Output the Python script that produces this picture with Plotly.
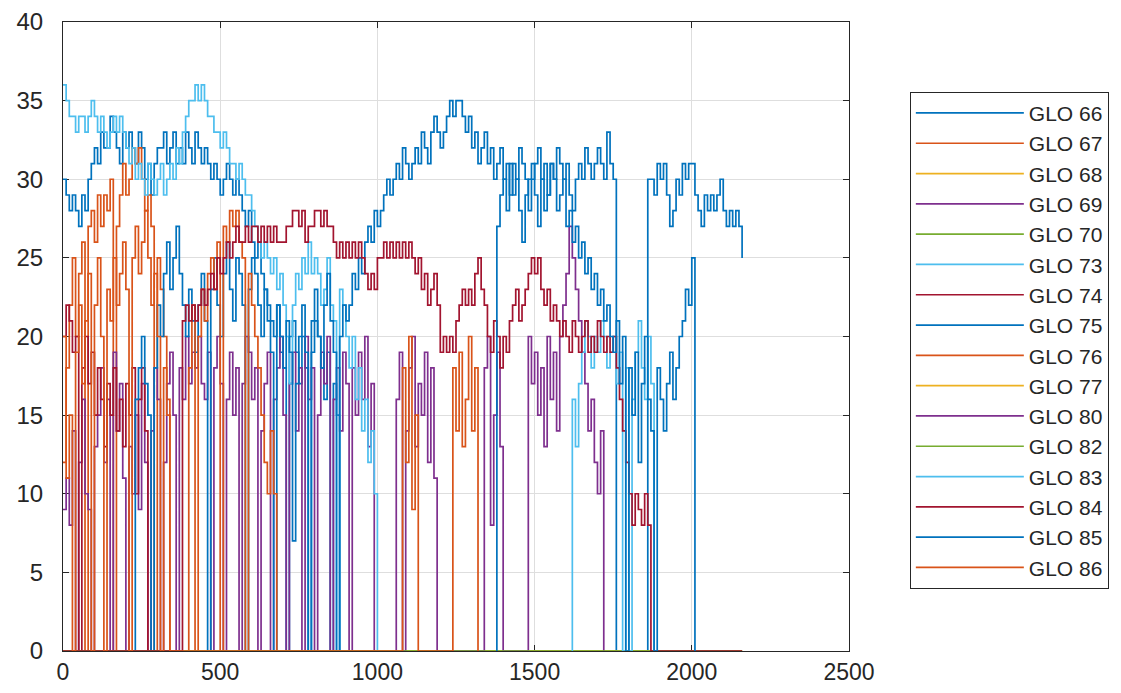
import plotly.graph_objects as go

SAMPLE_STEP = 10
X_END = 2160

NAMES = ["GLO 66", "GLO 67", "GLO 68", "GLO 69", "GLO 70", "GLO 73", "GLO 74", "GLO 75",
         "GLO 76", "GLO 77", "GLO 80", "GLO 82", "GLO 83", "GLO 84", "GLO 85", "GLO 86"]

GLO66_STARTS = [0, 1860]
GLO66_VALUES = [
    [30, 29, 28, 29, 28, 27, 29, 28, 30,
     31, 32, 31, 33, 32, 32, 34, 33, 32, 31, 33, 32,
     33, 32, 31, 33, 32, 30, 31, 29, 31, 32,
     32, 33, 31, 32, 33, 31, 32, 31, 33, 32, 31, 33, 32, 31, 32,
     31, 30, 31, 30, 29, 30, 31, 30, 29, 30, 29,
     28, 27, 28, 26, 25, 26, 24, 23, 22, 21,
     20, 22, 19, 18, 0, 20, 21, 19, 17, 20, 18, 0, 19, 21, 20, 18, 16, 19, 0, 17, 15],
    [30, 30, 29, 31, 30, 31, 29, 27, 28, 30, 29, 31, 30, 31, 31,
     29, 28, 27, 29, 28, 29, 28, 29, 30, 28, 27, 28, 27, 28, 27, 25],
]

GLO67_STARTS = [0]
GLO67_VALUES = [
    [12, 18, 22, 25, 20, 24, 26, 0, 27, 28, 26, 29, 27, 29, 28, 30, 0, 27, 29, 31,
     29, 30, 32, 31, 32, 30, 28, 29, 27, 0, 25, 23, 20, 16],
]

GLO69_STARTS = [0]
GLO69_VALUES = [
    [9, 11, 8, 14, 0, 12, 16, 10, 9, 0, 13,
     15, 18, 12, 16, 0, 19, 14, 17, 11, 0,
     13, 10, 15, 9, 17, 12, 0, 14, 18, 16,
     0, 12, 17, 19, 15, 0, 18, 16, 20, 17,
     19, 18, 20, 17, 16, 19, 0, 18, 20, 17,
     0, 16, 19, 15, 18, 0, 17, 20, 19, 16,
     18, 0, 14, 17, 19, 0, 16, 18, 20, 15,
     0, 17, 19, 14, 18, 0, 20, 16, 18, 0,
     15, 19, 17, 20, 0, 16, 18, 14, 19, 17,
     0, 18, 15, 19, 16, 20, 13, 17, 0, 0],
]

GLO73_STARTS = [0]
GLO73_VALUES = [
    [36, 35, 34, 34, 33, 34, 34, 33, 34, 35, 34,
     33, 34, 33, 32, 33, 34, 33, 34, 33, 32, 31, 32, 30, 31, 30,
     29, 31, 30, 29, 30, 31, 29, 30, 31, 30, 32, 31, 33, 34, 35,
     35, 36, 35, 36, 35, 34, 34, 33, 33, 32,
     33, 32, 31, 31, 30, 31, 30, 29, 29, 28, 27, 26, 25, 26, 25,
     24, 25, 23, 24, 22, 20, 17, 22, 24, 23, 25, 24, 26, 24, 25,
     24, 22, 23, 25, 22, 21, 0, 23, 22, 20, 18, 20, 16, 18, 14, 16, 12, 14, 10],
]

GLO74_STARTS = [0]
GLO74_VALUES = [
    [20, 22, 21, 19, 20, 0, 18, 20, 17, 19, 15, 18, 16, 13, 17, 15, 18, 14, 16, 13,
     17, 15, 18, 10, 16, 18, 14],
]

GLO75_STARTS = [230]
GLO75_VALUES = [
    [16, 18, 20, 17, 15, 0, 18, 22, 20, 24, 26, 23, 25, 27, 24, 22, 20, 23,
     21, 19, 22, 24, 21, 0, 23, 25, 22, 20, 24, 26, 23, 21, 25, 24, 22, 0, 23, 25,
     24, 22, 20, 23, 21, 19, 0, 22, 20, 18, 21, 19, 7, 17, 20, 22, 19, 0, 21, 23,
     20, 18, 22, 24, 21, 19, 0, 20, 22, 21,
     22, 24, 23, 25, 24, 26, 27, 26, 28, 27, 28, 29, 30, 29, 30, 31, 30, 32, 31, 30,
     31, 32, 31, 33, 32, 31, 33, 34, 33, 32, 33, 34, 35, 34, 35,
     35, 34, 33, 34, 32, 33, 31, 32, 33, 31, 32, 30, 31, 32, 30, 31, 29, 31, 30, 32,
     31, 30, 28, 30, 31, 32, 30, 31, 29, 31, 30, 32, 31, 30, 31, 29, 28, 30, 31, 30,
     32, 31, 30, 31, 32, 31, 30, 33, 31, 30],
]

GLO76_STARTS = [400]
GLO76_VALUES = [
    [18, 22, 0, 20, 23, 21, 24, 25, 23, 26, 0, 27, 26, 28, 27, 28, 26, 25, 0, 24,
     22, 20, 18, 15, 12, 10, 14, 10],
]

GLO80_STARTS = [1060, 1340, 1480]
GLO80_VALUES = [
    [16, 19, 0, 14, 18, 20, 13, 17, 15, 19, 12, 18, 11],
    [18, 20, 8, 15, 19, 13],
    [20, 17, 19, 15, 18, 13, 20, 16, 19, 14, 20, 22, 24, 27, 25, 23, 21, 19, 17, 14,
     16, 12, 10, 14],
]

GLO83_STARTS = [1620]
GLO83_VALUES = [
    [16, 13, 17, 19, 21, 20, 18, 20, 19, 21, 20, 18, 19, 20, 17, 19, 0, 18, 0, 16,
     19, 21, 18, 16, 20, 17],
]

GLO84_STARTS = [380]
GLO84_VALUES = [
    [21, 22, 21, 22, 21, 22, 23, 22,
     23, 24, 23, 25, 24, 25, 26, 25, 26, 27, 26,
     26, 27, 26, 27, 27, 26, 27, 26, 27, 26, 27, 26, 26,
     26, 27, 27, 28, 28, 27, 28, 26, 27, 27, 28, 28, 27, 28, 27, 27, 26,
     25, 26, 25, 26, 25, 26, 25, 26, 25, 24, 23, 24, 23, 25,
     25, 26, 25, 26, 25, 26, 25, 26, 25, 26, 25,
     24, 25, 23, 24, 22, 23, 24, 22,
     19, 20, 19, 20, 19, 21, 22, 23, 22, 23,
     22, 24, 25, 23, 22, 20, 19, 21, 20, 18, 20, 19, 21,
     22, 23, 21, 22, 23, 24, 25, 24, 25, 23, 22, 23, 21, 22, 21, 20,
     21, 20, 19, 21, 20, 19, 20, 21, 19, 20, 19, 21, 20, 19, 20, 19, 20, 18,
     16, 14, 12, 10, 8, 10, 9, 8, 10, 8],
]

GLO85_STARTS = [1380]
GLO85_VALUES = [
    [27, 29, 30, 28, 31, 29, 30, 28, 26, 29, 30, 31, 29, 27, 30, 28, 29, 31, 30, 28,
     29, 30, 27,
     28, 26, 27, 25, 26, 24, 25, 23, 24, 22, 23, 21, 22, 20, 19,
     21, 17, 20, 0, 18, 15, 19, 12, 17, 20, 16, 14, 0, 18, 16,
     14, 17, 19, 16, 18, 20, 21, 23, 22, 25],
]

GLO86_STARTS = [0, 1080, 1240]
GLO86_VALUES = [
    [20, 11, 15, 0, 19, 22, 17, 21, 24, 0, 22, 25, 20, 0, 23, 21, 25, 22, 24, 26,
     23, 0, 25, 27, 24, 26, 28, 25, 22, 24, 20, 0, 18, 15],
    [18, 12, 20, 9, 15],
    [18, 14, 19, 13, 16, 20, 14, 18],
]

# series that stay at zero for the whole record
ZERO_X = [0, X_END]
ZERO_Y = [0, 0]

SERIES = {
    "GLO 66": (GLO66_STARTS, GLO66_VALUES),
    "GLO 67": (GLO67_STARTS, GLO67_VALUES),
    "GLO 68": None,
    "GLO 69": (GLO69_STARTS, GLO69_VALUES),
    "GLO 70": None,
    "GLO 73": (GLO73_STARTS, GLO73_VALUES),
    "GLO 74": (GLO74_STARTS, GLO74_VALUES),
    "GLO 75": (GLO75_STARTS, GLO75_VALUES),
    "GLO 76": (GLO76_STARTS, GLO76_VALUES),
    "GLO 77": None,
    "GLO 80": (GLO80_STARTS, GLO80_VALUES),
    "GLO 82": None,
    "GLO 83": (GLO83_STARTS, GLO83_VALUES),
    "GLO 84": (GLO84_STARTS, GLO84_VALUES),
    "GLO 85": (GLO85_STARTS, GLO85_VALUES),
    "GLO 86": (GLO86_STARTS, GLO86_VALUES),
}

# ---------------- styling ----------------
MATLAB_COLORS = ["#0072BD", "#D95319", "#EDB120", "#7E2F8E", "#77AC30", "#4DBEEE", "#A2142F"]
FONT = "Liberation Sans, Arial, Helvetica, sans-serif"
TXT = "#262626"


def build(starts, values, pad_full=False):
    xs, ys = [], []
    if pad_full and starts[0] > 0:
        xs.append(0)
        ys.append(0)
    for s, vals in zip(starts, values):
        if s > 0:
            xs.append(s)
            ys.append(0)
        for i, v in enumerate(vals):
            xs.append(s + i * SAMPLE_STEP)
            ys.append(v)
        e = s + len(vals) * SAMPLE_STEP
        if e <= X_END:
            xs.append(e)
            ys.append(0)
    if pad_full and xs[-1] < X_END:
        xs.append(X_END)
        ys.append(0)
    return xs, ys


fig = go.Figure()
for i, name in enumerate(NAMES):
    spec = SERIES[name]
    if spec is None:
        x, y = ZERO_X, ZERO_Y
    else:
        x, y = build(spec[0], spec[1], pad_full=(name == "GLO 84"))
    fig.add_trace(go.Scatter(
        x=x, y=y, mode="lines", name=name,
        line=dict(color=MATLAB_COLORS[i % 7], width=1.7, shape="hv"),
    ))

axis_common = dict(
    showline=True, linecolor=TXT, linewidth=1, mirror="ticks",
    ticks="inside", ticklen=6, tickcolor=TXT,
    showgrid=True, gridcolor="#dedede", gridwidth=1,
    zeroline=False, layer="below traces", automargin=False,
)

# the page body adds an 8 px margin round the figure, so the figure is sized to fit inside the window
fig.update_layout(
    width=1113, height=677,
    margin=dict(l=55, r=270, t=14, b=34),
    paper_bgcolor="white", plot_bgcolor="white",
    xaxis=dict(range=[0, 2500], dtick=500, tick0=0, ticklabelstandoff=0,
               tickfont=dict(family=FONT, size=23, color=TXT), **axis_common),
    yaxis=dict(range=[0, 40], dtick=5, tick0=0, ticklabelstandoff=14,
               tickfont=dict(family=FONT, size=24, color=TXT), **axis_common),
    legend=dict(
        x=1.0774, y=0.889, xanchor="left", yanchor="top",
        bgcolor="white", bordercolor=TXT, borderwidth=1,
        font=dict(family=FONT, size=21, color=TXT),
        itemwidth=108, tracegroupgap=0,
    ),
    showlegend=True,
)

fig.write_html("out.html")
